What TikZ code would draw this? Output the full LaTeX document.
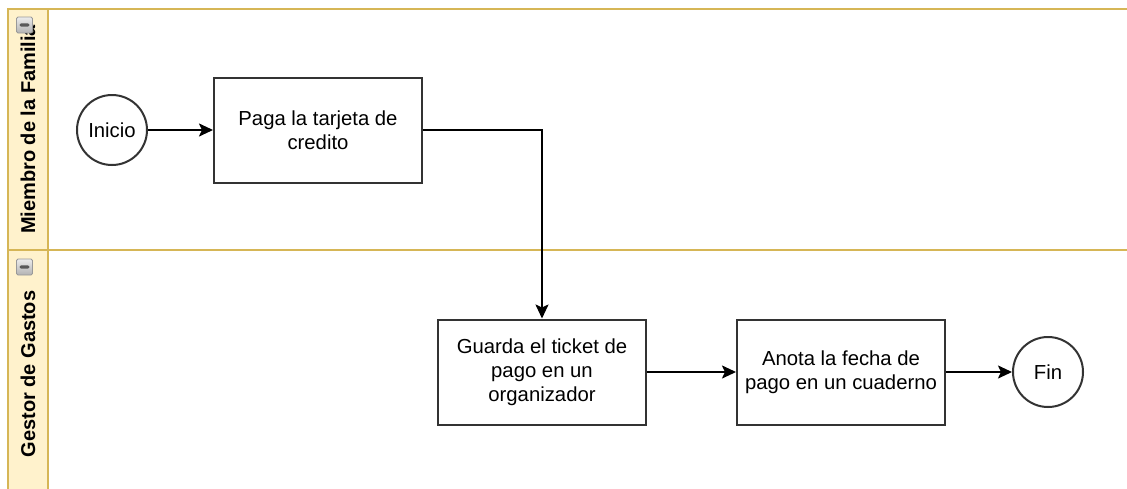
\documentclass[tikz,border=0pt]{standalone}
\usepackage{fontspec}
\setmainfont{Liberation Sans}
\usetikzlibrary{arrows.meta}
\definecolor{laneborder}{HTML}{D6B656}
\definecolor{lanefill}{HTML}{FFF2CC}
\definecolor{strokecol}{HTML}{333333}
\begin{document}
\begin{tikzpicture}[x=1pt,y=-1pt,
  taskbox/.style={draw=strokecol, line width=2pt, fill=white, minimum width=208pt, minimum height=105pt, inner sep=0pt, align=center, font=\fontsize{20.3}{24}\selectfont},
  eventnode/.style={draw=strokecol, line width=2pt, circle, fill=white, minimum size=70pt, inner sep=0pt, font=\fontsize{20.3}{24}\selectfont},
  conn/.style={draw=black, line width=2pt, -{Stealth[length=14pt,width=13pt,inset=3pt]}},
  lanetitle/.style={rotate=90, font=\bfseries\fontsize{20}{24}\selectfont, inner sep=0pt},
  laneline/.style={draw=laneborder, line width=2pt},
  iconbox/.style={draw=gray!80, line width=0.8pt, rounded corners=1.5pt, top color=gray!15, bottom color=gray!60, minimum size=16pt, inner sep=0pt,
    path picture={\fill[gray!70!black] ([xshift=3pt,yshift=-1.6pt]path picture bounding box.west) rectangle ([xshift=-3pt,yshift=1.6pt]path picture bounding box.east);}}
]
\useasboundingbox (0,0) rectangle (1127,488);
\begin{scope}
\clip (0,0) rectangle (1127,488);
% lanes
\fill[white] (0,0) rectangle (1127,488);
\fill[lanefill] (8,9) rectangle (48,500);
\draw[laneline] (8,500) -- (8,9) -- (1127,9);
\draw[laneline] (8,250) -- (1127,250);
\draw[laneline] (48,9) -- (48,500);
% lane titles
\node[lanetitle] (lt1) at (28,129.5) {Miembro de la Familia};
\node[lanetitle] (lt2) at (28,374) {Gestor de Gastos};
\node[iconbox] (ic1) at (24.5,25) {};
\node[iconbox] (ic2) at (24.5,267) {};
\end{scope}
% nodes
\node[eventnode] (inicio) at (112,130) {Inicio};
\node[taskbox] (paga) at (318,130) {Paga la tarjeta de\\credito};
\node[taskbox] (guarda) at (542,372) {Guarda el ticket de\\pago en un\\organizador};
\node[taskbox] (anota) at (841,372) {Anota la fecha de\\pago en un cuaderno};
\node[eventnode] (fin) at (1048,372) {Fin};
% connectors
\draw[conn] (inicio) -- (paga);
\draw[conn] (paga.east) -| (guarda.north);
\draw[conn] (guarda) -- (anota);
\draw[conn] (anota) -- (fin);
\end{tikzpicture}
\end{document}
